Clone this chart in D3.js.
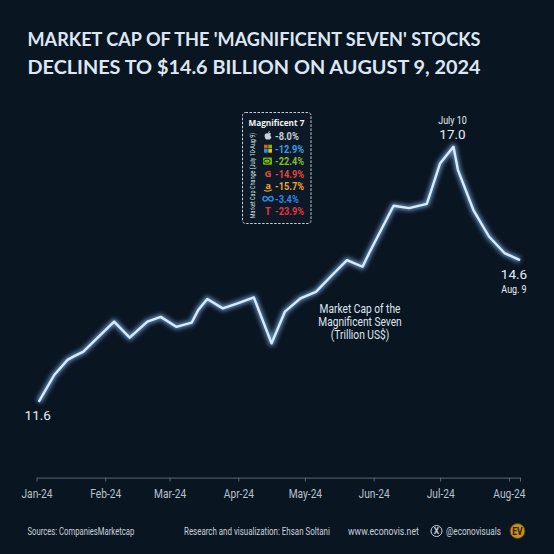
<!DOCTYPE html>
<html>
<head>
<meta charset="utf-8">
<script src="https://cdn.jsdelivr.net/npm/d3@7"></script>
<style>
  html, body { margin: 0; padding: 0; background: #0a1522; }
  svg { display: block; }
</style>
</head>
<body>
<div id="container"></div>
<script>
// 数据：每周市值（万亿美元）
const dates = [
  "2024-01-02", "2024-01-09", "2024-01-15", "2024-01-18", "2024-01-22",
  "2024-02-05", "2024-02-12", "2024-02-20", "2024-02-26", "2024-03-04",
  "2024-03-11", "2024-03-14", "2024-03-18", "2024-03-25", "2024-04-01",
  "2024-04-08", "2024-04-16", "2024-04-22", "2024-04-29", "2024-05-06",
  "2024-05-13", "2024-05-20", "2024-05-27", "2024-05-30", "2024-06-10",
  "2024-06-17", "2024-06-25", "2024-07-01", "2024-07-07", "2024-07-09",
  "2024-07-16", "2024-07-23", "2024-07-30", "2024-08-06"
];
const marketCap = [
  11.6, 12.17, 12.49, 12.57, 12.66,
  13.30, 12.96, 13.30, 13.40, 13.19,
  13.28, 13.55, 13.78, 13.58, 13.69,
  13.81, 12.84, 13.51, 13.79, 13.93,
  14.27, 14.60, 14.46, 14.75, 15.75,
  15.70, 15.79, 16.65, 17.0, 16.51,
  15.66, 15.10, 14.75, 14.6
];
const tickMonths = ["2024-01-01", "2024-02-01", "2024-03-01", "2024-04-01",
  "2024-05-01", "2024-06-01", "2024-07-01", "2024-08-01"];

// 图例：7 家公司 7 月 10 日至 8 月 9 日的市值变化
const companies = ["apple", "microsoft", "nvidia", "google", "amazon", "meta", "tesla"];
const changes = [-8.0, -12.9, -22.4, -14.9, -15.7, -3.4, -23.9];
const changeColors = ["#c9d1db", "#3a9fe6", "#86bd2e", "#e5473d", "#f0a43a", "#2f86e6", "#e3363f"];

const width = 554, height = 554;
const fontBody = "Roboto, 'Noto Sans', sans-serif";

// 模拟窄体字：用 transform 横向压缩（k < 1 时按比例，k > 1 时视为目标宽度）
function condense(sel, k) {
  sel.each(function () {
    const t = d3.select(this);
    const w = this.getComputedTextLength();
    const s = k > 1 ? k / w : k;
    const tx = +t.attr("x") || 0, ty = +t.attr("y") || 0;
    t.attr("x", null).attr("y", null)
      .attr("transform", `translate(${tx},${ty}) scale(${s},1)`);
  });
  return sel;
}
const fmt = v => d3.format(".1f")(v).replace("−", "-");

const svg = d3.select("#container").append("svg")
  .attr("width", width).attr("height", height)
  .style("background", "#0a1522");

svg.append("rect").attr("width", width).attr("height", height).attr("fill", "#0a1522");

const parse = d3.utcParse("%Y-%m-%d");
const data = dates.map((d, i) => ({ date: parse(d), value: marketCap[i] }));

const x = d3.scaleUtc()
  .domain([parse("2024-01-01"), parse("2024-08-06")])
  .range([36.5, 520]);
const y = d3.scaleLinear().domain([10, 18]).range([477.6, 99.4]);

// 标题
const title = svg.append("g")
  .attr("font-family", "Lato, 'Open Sans', sans-serif")
  .attr("font-weight", 700)
  .attr("font-size", 19.5)
  .attr("fill", "#dde7f3");
title.append("text").attr("x", 27.5).attr("y", 46)
  .attr("textLength", 453).attr("lengthAdjust", "spacingAndGlyphs")
  .text("MARKET CAP OF THE 'MAGNIFICENT SEVEN' STOCKS");
title.append("text").attr("x", 27.5).attr("y", 74)
  .attr("textLength", 453).attr("lengthAdjust", "spacingAndGlyphs")
  .text("DECLINES TO $14.6 BILLION ON AUGUST 9, 2024");

// x 轴
const xAxis = svg.append("g")
  .attr("transform", `translate(0,${y(10)})`)
  .call(d3.axisBottom(x)
    .tickValues(tickMonths.map(parse).concat([x.domain()[1]]))
    .tickFormat(d => d.getUTCDate() === 1 ? d3.utcFormat("%b-%y")(d) : "")
    .tickSize(4).tickSizeOuter(0));
xAxis.select(".domain").attr("stroke", "#5b6675").attr("stroke-width", 1);
xAxis.selectAll(".tick line").attr("stroke", "#5b6675");
condense(xAxis.selectAll(".tick text")
  .attr("fill", "#b9c2cd").attr("font-size", 12).attr("font-family", fontBody)
  .attr("y", 20).attr("dy", null), 0.85);

// 发光折线
const defs = svg.append("defs");
const glow = defs.append("filter").attr("id", "glow")
  .attr("x", "-10%").attr("y", "-10%").attr("width", "120%").attr("height", "120%");
glow.append("feGaussianBlur").attr("stdDeviation", 2.3);

const line = d3.line().x(d => x(d.date)).y(d => y(d.value));
svg.append("path").datum(data)
  .attr("d", line).attr("fill", "none")
  .attr("stroke", "#6f9fd6").attr("stroke-width", 5.5).attr("stroke-opacity", 0.85)
  .attr("stroke-linejoin", "round").attr("filter", "url(#glow)");
svg.append("path").datum(data)
  .attr("d", line).attr("fill", "none")
  .attr("stroke", "#dcebfa").attr("stroke-width", 2.4)
  .attr("stroke-linejoin", "round");

// 标注
const first = data[0], last = data[data.length - 1];
const peak = data[d3.maxIndex(data, d => d.value)];
const ann = svg.append("g").attr("font-family", fontBody).attr("fill", "#e6edf5")
  .attr("text-anchor", "middle");
ann.append("text").attr("x", x(first.date) - 1).attr("y", y(first.value) + 18)
  .attr("font-size", 13.5).text(fmt(first.value));
condense(ann.append("text").attr("x", x(peak.date) - 1).attr("y", y(peak.value) - 23)
  .attr("font-size", 10.5).text("July 10"), 0.85);
ann.append("text").attr("x", x(peak.date) - 1).attr("y", y(peak.value) - 8)
  .attr("font-size", 13.5).text(fmt(peak.value));
ann.append("text").attr("x", x(last.date) - 6).attr("y", y(last.value) + 19)
  .attr("font-size", 13.5).text(fmt(last.value));
condense(ann.append("text").attr("x", x(last.date) - 6).attr("y", y(last.value) + 33)
  .attr("font-size", 10.5).text("Aug. 9"), 0.85);

const seriesLines = ["Market Cap of the", "Magnificent Seven", "(Trillion US$)"];
const seriesLabel = ann.append("text")
  .attr("font-size", 12).attr("fill", "#dfe7f0")
  .attr("transform", "translate(360,313) scale(0.85,1)");
seriesLabel.selectAll("tspan").data(seriesLines).join("tspan")
  .attr("x", 0).attr("y", (d, i) => i * 12.8)
  .text(d => d);

// 图例框
const lg = svg.append("g").attr("transform", "translate(242.5,112.5)");
lg.append("rect").attr("width", 68.5).attr("height", 111).attr("rx", 3)
  .attr("fill", "#0d1926").attr("stroke", "#c9d1da").attr("stroke-width", 1)
  .attr("stroke-dasharray", "2.5,1.5");
lg.append("text").attr("x", 6).attr("y", 13)
  .attr("font-family", "'Open Sans', sans-serif").attr("font-weight", 700)
  .attr("font-size", 9.5).attr("fill", "#f0f4f8")
  .text("Magnificent 7")
  .call(condense, 56);
lg.append("text").attr("transform", "translate(12,63) rotate(-90) scale(0.8,1)")
  .attr("text-anchor", "middle").attr("font-family", fontBody)
  .attr("font-size", 6.8).attr("fill", "#dfe6ee")
  .text("Market Cap Change (July 10-Aug 9)");

const rowY = d3.scaleLinear().domain([0, 6]).range([27.5, 102.5]);
const rows = lg.selectAll("g.row").data(companies).join("g")
  .attr("class", "row")
  .attr("transform", (d, i) => `translate(0,${rowY(i)})`);

rows.append("text").attr("x", 32.5).attr("y", 0)
  .attr("font-family", fontBody).attr("font-weight", 700).attr("font-size", 11)
  .attr("fill", (d, i) => changeColors[i])
  .text((d, i) => fmt(changes[i]) + "%")
  .call(condense, 0.84);

rows.each(function (c, i) {
  const g = d3.select(this).append("g").attr("transform", "translate(25.5,-3.8)");
  if (c === "apple") {
    g.append("path").attr("d", "M0,-2.6 C-1.8,-3.6 -3.6,-2.4 -3.4,0 C-3.2,2.4 -1.6,4 0,3.2 C1.6,4 3.2,2.4 3.4,0.8 C2,0 2,-2 3.2,-2.4 C2.2,-3.6 1,-3.2 0,-2.6Z")
      .attr("fill", "#c9d1db");
    g.append("path").attr("d", "M0,-3 C0,-4.4 1,-5 1.8,-5.2 C1.8,-4 1,-3.2 0,-3Z").attr("fill", "#c9d1db");
  } else if (c === "microsoft") {
    [["#f25022", -4, -4], ["#7fba00", 0.3, -4], ["#00a4ef", -4, 0.3], ["#ffb900", 0.3, 0.3]]
      .forEach(([col, dx, dy]) => g.append("rect").attr("x", dx).attr("y", dy)
        .attr("width", 3.7).attr("height", 3.7).attr("fill", col));
  } else if (c === "nvidia") {
    g.append("rect").attr("x", -5).attr("y", -3.6).attr("width", 9).attr("height", 7.2)
      .attr("rx", 1).attr("fill", "#76b900");
    g.append("ellipse").attr("cx", -1).attr("cy", 0).attr("rx", 3.2).attr("ry", 2)
      .attr("fill", "none").attr("stroke", "#0d1926").attr("stroke-width", 0.9);
  } else if (c === "google") {
    g.append("text").attr("y", 3.6).attr("text-anchor", "middle")
      .attr("font-family", "'Open Sans', sans-serif").attr("font-weight", 700)
      .attr("font-size", 9.5).attr("fill", "#e94b3c").text("G");
  } else if (c === "amazon") {
    g.append("text").attr("y", 2.6).attr("text-anchor", "middle")
      .attr("font-family", "'Open Sans', sans-serif").attr("font-weight", 700)
      .attr("font-size", 9.5).attr("fill", "#f0a43a").text("a");
    g.append("path").attr("d", "M-4,4 Q0,6 4,3.6").attr("fill", "none")
      .attr("stroke", "#f0a43a").attr("stroke-width", 1.2);
  } else if (c === "meta") {
    g.append("path").attr("d", "M0,0 C-1.5,-3 -5,-3 -5,0 C-5,3 -1.5,3 0,0 C1.5,-3 5,-3 5,0 C5,3 1.5,3 0,0Z")
      .attr("fill", "none").attr("stroke", "#2f86e6").attr("stroke-width", 1.5);
  } else if (c === "tesla") {
    g.append("text").attr("y", 3.8).attr("text-anchor", "middle")
      .attr("font-family", "'Open Sans', sans-serif").attr("font-weight", 700)
      .attr("font-size", 10).attr("fill", "#e3363f").text("T");
  }
});

// 页脚
const foot = svg.append("g").attr("font-family", fontBody).attr("font-size", 10.5)
  .attr("fill", "#c9d1db");
const footTexts = ["Sources: CompaniesMarketcap", "Research and visualization: Ehsan Soltani",
  "www.econovis.net", "@econovisuals"];
const footX = [27.5, 184, 348, 446];
const footW = [107, 146, 71, 55];
foot.selectAll("text.foot").data(footTexts).join("text")
  .attr("class", "foot")
  .attr("x", (d, i) => footX[i]).attr("y", 535)
  .text(d => d)
  .each(function (d, i) { condense(d3.select(this), footW[i]); });
foot.append("circle").attr("cx", 436.5).attr("cy", 531).attr("r", 5.5)
  .attr("fill", "none").attr("stroke", "#c9d1db").attr("stroke-width", 1);
foot.append("text").attr("x", 436.5).attr("y", 534.3).attr("text-anchor", "middle")
  .attr("font-size", 8.5).attr("font-weight", 700).text("X");
foot.append("circle").attr("cx", 517.5).attr("cy", 531).attr("r", 7.5)
  .attr("fill", "#c8911f").attr("stroke", "#5a3c0c").attr("stroke-width", 1);
foot.append("text").attr("x", 517.5).attr("y", 534.8).attr("text-anchor", "middle")
  .attr("font-size", 10).attr("font-weight", 700).attr("fill", "#2a1a05")
  .text("EV").call(condense, 0.85);
</script>
</body>
</html>
